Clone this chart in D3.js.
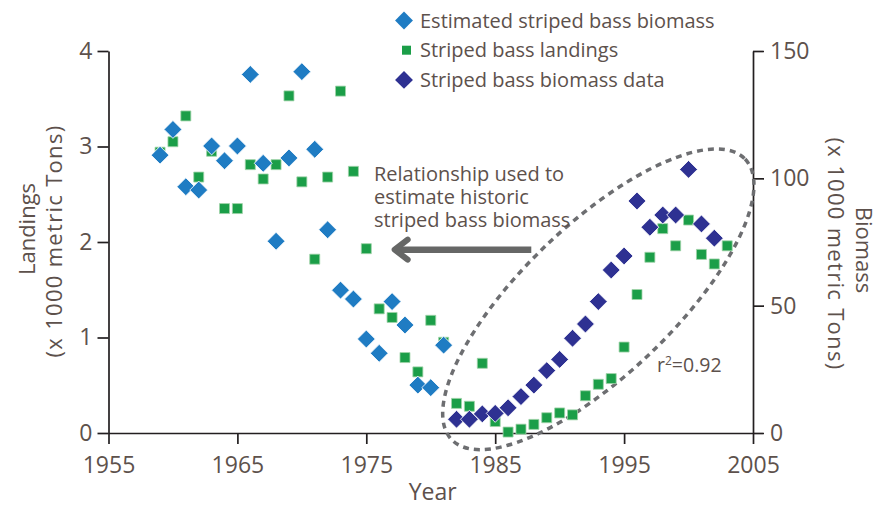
<!DOCTYPE html>
<html>
<head>
<meta charset="utf-8">
<script src="https://cdn.jsdelivr.net/npm/d3@7"></script>
<style>
  body { margin: 0; background: #fff; }
  #chart { width: 880px; height: 507px; }
  text { font-family: "Open Sans", sans-serif; fill: #5d514c; }
  .axis path, .axis line { stroke: #231f20; stroke-width: 1.7; }
</style>
</head>
<body>
<div id="chart"></div>
<script>
// estimated biomass (light blue), 1959-1981, x1000 t
const estYears = [1959,1960,1961,1962,1963,1964,1965,1966,1967,1968,1969,1970,1971,1972,1973,1974,1975,1976,1977,1978,1979,1980,1981];
const estBiomass = [109.1,119.2,96.7,95.4,112.7,106.9,112.7,140.8,105.9,75.3,108.0,141.9,111.4,79.8,56.1,52.6,36.9,31.3,51.6,42.4,18.8,17.8,34.5];

// landings (green), 1959-2003, x1000 t
const landYears = d3.range(1959, 2004);
const landings = [2.94,3.05,3.32,2.68,2.95,2.35,2.35,2.81,2.66,2.81,3.53,2.63,1.82,2.68,3.58,2.74,1.93,1.30,1.21,0.79,0.64,1.18,0.95,
                  0.31,0.28,0.73,0.12,0.01,0.04,0.09,0.16,0.21,0.19,0.39,0.51,0.57,0.90,1.45,1.84,2.14,1.96,2.23,1.87,1.77,1.96];

// biomass data (dark blue), 1982-2002
const bioYears = d3.range(1982, 2003);
const bioData = [5.4,5.4,7.5,7.7,9.9,14.3,18.8,24.5,28.9,37.2,42.8,51.6,64.0,69.5,91.1,80.8,85.6,85.6,103.5,82.1,76.5];

const xTicks = [1955,1965,1975,1985,1995,2005];
const leftTicks = [0,1,2,3,4];
const rightTicks = [0,50,100,150];

const legendLabels = ["Estimated striped bass biomass","Striped bass landings","Striped bass biomass data"];
const noteLines = ["Relationship used to","estimate historic","striped bass biomass"];

const colEst = "#1f7cc3", colLand = "#1b9e48", colBio = "#2e3192";

/*
    SVG
*/
const width = 880, height = 507;
const margin = {top: 51, left: 108.5, right: 127, bottom: 74};

const svg = d3.select("#chart").append("svg")
    .attr("width", width)
    .attr("height", height);

/*
    SCALES
*/
const xScale = d3.scaleLinear().domain([1955, 2005]).range([margin.left, width - margin.right]);
const yLeft = d3.scaleLinear().domain([0, 4]).range([height - margin.bottom, margin.top]);
const yRight = d3.scaleLinear().domain([0, 150]).range([height - margin.bottom, margin.top]);

/*
    AXES
*/
const xAxis = svg.append("g")
    .attr("class", "axis")
    .attr("transform", `translate(0,${yLeft(0)})`)
    .call(d3.axisBottom(xScale).tickValues(xTicks).tickFormat(d3.format("d")).tickSize(11).tickSizeOuter(0));
xAxis.selectAll("text").attr("y", 24).attr("dy", "0.71em").style("font-size", "23px");

const leftAxis = svg.append("g")
    .attr("class", "axis")
    .attr("transform", `translate(${margin.left},0)`)
    .call(d3.axisLeft(yLeft).tickValues(leftTicks).tickFormat(d3.format("d")).tickSize(11).tickSizeOuter(0));
leftAxis.selectAll("text").attr("x", -16).style("font-size", "23px");

const rightAxis = svg.append("g")
    .attr("class", "axis")
    .attr("transform", `translate(${width - margin.right},0)`)
    .call(d3.axisRight(yRight).tickValues(rightTicks).tickFormat(d3.format("d")).tickSize(11).tickSizeOuter(0));
rightAxis.selectAll("text").attr("x", 17).style("font-size", "23px");

svg.selectAll(".axis text").attr("fill", "#5d514c");

/*
    AXIS LABELS
*/
svg.append("text")
    .attr("x", (xScale(1955) + xScale(2005)) / 2 + 2)
    .attr("y", 500)
    .attr("text-anchor", "middle")
    .style("font-size", "23px")
    .text("Year");

svg.append("text")
    .attr("transform", "translate(35,229) rotate(-90)")
    .attr("text-anchor", "middle")
    .style("font-size", "22px")
    .text("Landings");
svg.append("text")
    .attr("transform", "translate(62,241) rotate(-90)")
    .attr("text-anchor", "middle")
    .style("font-size", "22px")
    .style("letter-spacing", "1.3px")
    .text("(x 1000 metric Tons)");

svg.append("text")
    .attr("transform", "translate(856,250) rotate(90)")
    .attr("text-anchor", "middle")
    .style("font-size", "22px")
    .text("Biomass");
svg.append("text")
    .attr("transform", "translate(828,254) rotate(90)")
    .attr("text-anchor", "middle")
    .style("font-size", "22px")
    .style("letter-spacing", "1.3px")
    .text("(x 1000 metric Tons)");

/*
    ELLIPSE + ARROW + NOTE
*/
svg.append("ellipse")
    .attr("transform", `translate(${xScale(1993)},${yLeft(1.40)}) rotate(-43.7)`)
    .attr("rx", 203)
    .attr("ry", 75)
    .attr("fill", "none")
    .attr("stroke", "#6d6e71")
    .attr("stroke-width", 3.5)
    .attr("stroke-dasharray", "6,5");

const arrowY = yLeft(1.92);
svg.append("line")
    .attr("x1", xScale(1987.8)).attr("y1", arrowY)
    .attr("x2", xScale(1977.2) + 3).attr("y2", arrowY)
    .attr("stroke", "#666766")
    .attr("stroke-width", 6.5);
svg.append("path")
    .attr("d", `M${xScale(1977.2) + 13},${arrowY - 10} L${xScale(1977.2)},${arrowY} L${xScale(1977.2) + 13},${arrowY + 10}`)
    .attr("fill", "none")
    .attr("stroke", "#666766")
    .attr("stroke-width", 6)
    .attr("stroke-linecap", "round")
    .attr("stroke-linejoin", "round");

svg.selectAll(".note")
    .data(noteLines)
    .enter()
    .append("text")
    .attr("class", "note")
    .attr("x", 374)
    .attr("y", (d, i) => 181 + i * 23)
    .style("font-size", "20px")
    .text(d => d);

const r2 = svg.append("text")
    .attr("x", 657)
    .attr("y", 372)
    .style("font-size", "19.5px");
r2.append("tspan").text("r");
r2.append("tspan").attr("dy", -7).style("font-size", "12px").text("2");
r2.append("tspan").attr("dy", 7).text("=0.92");

/*
    POINTS
*/
const diamond = d3.symbol().type(d3.symbolSquare).size(160);
const square = d3.symbol().type(d3.symbolSquare).size(100);

svg.selectAll(".land")
    .data(landYears.map((y, i) => ({year: y, v: landings[i]})))
    .enter()
    .append("path")
    .attr("class", "land")
    .attr("d", square)
    .attr("transform", d => `translate(${xScale(d.year)},${yLeft(d.v)})`)
    .attr("fill", colLand)
    .attr("stroke", "#9fd3a8")
    .attr("stroke-width", 0.8);

svg.selectAll(".est")
    .data(estYears.map((y, i) => ({year: y, v: estBiomass[i]})))
    .enter()
    .append("path")
    .attr("class", "est")
    .attr("d", diamond)
    .attr("transform", d => `translate(${xScale(d.year)},${yRight(d.v)}) rotate(45)`)
    .attr("fill", colEst)
    .attr("stroke", "#fff")
    .attr("stroke-width", 0.8);

svg.selectAll(".bio")
    .data(bioYears.map((y, i) => ({year: y, v: bioData[i]})))
    .enter()
    .append("path")
    .attr("class", "bio")
    .attr("d", diamond)
    .attr("transform", d => `translate(${xScale(d.year)},${yRight(d.v)}) rotate(45)`)
    .attr("fill", colBio)
    .attr("stroke", "#fff")
    .attr("stroke-width", 0.8);

/*
    LEGEND
*/
const legendCols = [colEst, colLand, colBio];
const legend = svg.selectAll(".legend")
    .data(legendLabels)
    .enter()
    .append("g")
    .attr("class", "legend")
    .attr("transform", (d, i) => `translate(404,${20.5 + i * 29.7})`);

legend.append("path")
    .attr("d", (d, i) => i === 1 ? d3.symbol().type(d3.symbolSquare).size(81)() : diamond())
    .attr("transform", (d, i) => i === 1 ? "translate(2.5,0)" : "rotate(45)")
    .attr("fill", (d, i) => legendCols[i]);

legend.append("text")
    .attr("x", 16)
    .attr("y", 7)
    .style("font-size", "20px")
    .text(d => d);
</script>
</body>
</html>
